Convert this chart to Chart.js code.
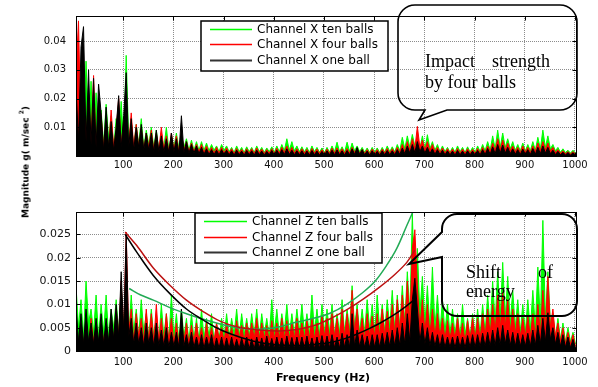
<!DOCTYPE html>
<html>
<head>
<meta charset="utf-8">
<script src="https://cdn.jsdelivr.net/npm/chart.js@4.4.1/dist/chart.umd.min.js"></script>
<style>
html,body{margin:0;padding:0;background:#fff;width:598px;height:387px;overflow:hidden;position:relative;}
#cTop{position:absolute;left:0;top:0;}
#cBot{position:absolute;left:0;top:190px;}
#ylab{position:absolute;left:24px;top:162px;transform:translate(-50%,-50%) rotate(-90deg);font:bold 9px "DejaVu Sans",sans-serif;white-space:nowrap;color:#000;}
#ylab sup{font-size:6px;vertical-align:5px;}
#xlab{position:absolute;left:323px;top:377px;transform:translate(-50%,-50%);font:bold 11px "DejaVu Sans",sans-serif;white-space:nowrap;color:#000;}
</style>
</head>
<body>
<canvas id="cTop" width="598" height="180"></canvas>
<canvas id="cBot" width="598" height="197"></canvas>
<div id="ylab">Magnitude g( m/sec <sup>2</sup>)</div>
<div id="xlab">Frequency (Hz)</div>
<script>
// ---- spectrum bins (Hz): first bin and bin spacing
const freqStartHz = 6;
const freqStepHz = 5;
// values below are in units of 0.001 m/sec^2
const UNIT = 0.001;

// ---- Channel X (top panel)
const xTenBalls = [
 20,8,27,5,33,6,26,4,22,5,
 16,4,18,6,14,3,13,5,19,4,
 35,5,12,3,11,4,13,3,9,4,
 10,3,9,2,8,3,10,2,7,3,
 8,2.5,7,3,6,2,5.5,2,5,2,
 5,2,4.5,1.8,4,2,3.5,1.5,4,2,
 3.5,1.5,3,1.2,3.5,1.5,3,1.2,3.2,1.5,
 3,1.2,3.5,1.5,3,1.2,2.8,1.5,3.2,1.3,
 3.5,1.5,4,1.8,6,2,5,1.8,3.5,1.5,
 3.2,1.4,3,1.2,3.5,1.5,3,1.3,2.8,1.2,
 3,1.3,3.5,1.5,4.8,1.5,3.2,1.3,4.8,1.5,
 4.5,1.8,3.5,1.5,3,1.3,2.8,1.2,3,1.3,
 2.8,1.2,3,1.3,3.5,1.5,3.2,1.4,4,1.8,
 6.5,2.5,7,3,7.5,3.5,6,2.5,7,2.5,
 7.4,2.5,5,2,4,1.5,3.5,1.5,3,1.3,
 3,1.3,3.5,1.5,3,1.2,3.2,1.4,3,1.3,
 3.5,1.5,4,1.8,5,2,7,2.5,9,3,
 8,3,6,2.5,5,2,4,1.8,4.5,1.8,
 4,1.8,5,2,6.5,2.5,9,3,7,2.5,
 4,1.8,3,1.3,2.5,1.2,2,1,2,1
];
const xFourBalls = [
 29,47,6,30,4,22,5,28,3,18,
 14,3,12,2,16,3,9,20,4,12,
 12,4,15,3,11,3,10,2,8,3,
 9,2,8,2,10,2,7,1.5,8,2,
 7,1.5,8,2,5,1.5,4.5,1.5,4,1.5,
 4,1.2,3.5,1,3,1,3,1,3,1,
 2.8,1,2.5,0.8,2.6,1,2.3,0.8,2.5,1,
 2.5,0.8,2.8,1,2.4,0.8,2.2,1,2.5,0.8,
 2.7,1,3,1.2,3.5,1.2,3,1,2.5,1,
 2.5,1,2.3,0.8,2.6,1,2.4,0.9,2.2,0.8,
 2.4,0.9,2.7,1,2.8,1,2.5,0.9,2.6,1,
 3,1.2,2.6,1,2.3,0.9,2.2,0.8,2.4,0.9,
 2.2,0.8,2.4,1,2.6,1,2.5,1,3,1.2,
 4,1.5,5,2,6,2.5,10.3,3,5.5,2,
 5,1.8,4,1.5,3,1.2,2.8,1,2.5,1,
 2.4,0.9,2.6,1,2.4,0.9,2.5,1,2.3,0.9,
 2.6,1,3,1.2,3.5,1.5,4.5,1.8,6,2.2,
 5.5,2,4.5,1.8,3.5,1.5,3,1.2,3.5,1.3,
 3,1.2,3.5,1.5,4.5,1.8,5,2,4.5,1.8,
 3,1.2,2.2,1,1.8,0.8,1.5,0.7,1.5,0.7
];
const xOneBall = [
 24,5,38,45,5,30,4,27,3,25,
 15,2,17,3,12,2,10,21,3,14,
 29,3,13,2,10,3,11,2,8,2,
 8,1.5,9,1.5,7,1.5,6,1.2,8,1.5,
 6,1,14,1.2,5,1,4,1,3.5,0.8,
 3,0.6,2.5,0.5,2.2,0.5,2,0.4,2.2,0.5,
 2,0.4,1.8,0.3,2,0.4,1.7,0.3,1.9,0.4,
 1.8,0.3,2,0.4,1.7,0.3,1.6,0.4,1.9,0.3,
 2,0.4,2.2,0.5,2.5,0.5,2,0.4,1.8,0.4,
 1.8,0.3,1.7,0.3,1.9,0.4,1.7,0.3,1.6,0.3,
 1.8,0.4,2,0.4,2.1,0.4,1.8,0.3,1.9,0.4,
 2.5,0.5,3,0.5,2.2,0.4,1.7,0.3,1.8,0.3,
 1.6,0.3,1.8,0.4,1.9,0.4,1.8,0.4,2.2,0.5,
 2.8,0.8,3.5,1,4,1.2,5,1.5,3.5,1,
 3,0.8,2.5,0.6,2.2,0.5,2,0.4,1.8,0.4,
 1.7,0.3,1.9,0.4,1.7,0.3,1.8,0.4,1.7,0.3,
 1.9,0.4,2.2,0.5,2.6,0.6,3.2,0.8,4,1,
 3.8,1,3,0.8,2.5,0.6,2.2,0.5,2.4,0.5,
 2.2,0.5,2.6,0.6,3,0.8,3.5,1,3,0.8,
 2,0.5,1.6,0.4,1.3,0.3,1.2,0.3,1.1,0.3
];

// ---- Channel Z (bottom panel)
const zTenBalls = [
 14,5,11,3,15,6,9,4,12,3,
 10,4,12,3,9,5,11,4,13,5,
 10,3,12,4,9,3,11,4,8,3,
 9,3,7,2,10,3,8,2,12,3,
 8,2,9,3,7,2,8,2.5,7,2,
 9,2.5,7,3,8,2,6,2.5,7,3,
 8,3,7,3.5,9,3,8,3.5,7,3,
 8,3.5,9,3,8,3.5,7,3,11,4,
 9,3.5,8,4,10,3.5,8,3.5,9,4,
 10,4,8,3.5,12,4,9,3.5,10,4,
 9,4,10,3.5,8,4,11,4,9,4.5,
 14,5,10,4,9,4,11,4.5,10,4,
 12,4.5,10,4,11,5,13,4.5,12,5,
 14,6,17,8,29.5,10,22,8,16,6,
 14,5,18,5,12,4,11,4,10,3.5,
 9,3.5,8,3,10,3.5,7,3,8,3,
 9,3.5,10,4,12,5,15,6,17,7,
 19,7,16,6,13,5,11,4,10,4,
 11,4.5,13,5,18,6,28,7,17,6,
 8,3,7,2.5,6,2,5,2,4,1.5
];
const zFourBalls = [
 4,1,6,1.5,5,1,7,2,5,1.5,
 6,2,5,1.5,7,2,9,3,15,4,
 25.5,4,9,2,8,3,7,2,9,2,
 8,2,10,2,7,1.5,8,2,7,1.5,
 6,1.5,7,2,6,1.5,5.5,2,6,2,
 5,1.5,6,2,5,2,6,2.5,5,2,
 6,2.5,5,2,6.5,2.5,5.5,2,6,2.5,
 6,2.5,7,2.5,6,2.5,5.5,2,6.5,2.5,
 6,2.5,7,2.5,6.5,2.5,6,2.5,7,2.5,
 6,2.5,6.5,2.5,7,2.5,6,2.5,7.5,3,
 7,2.5,8,3,7,2.5,9,3,8,3,
 13,4,9,3,7,2.5,8,3,7.5,3,
 8,3,9,3,8.5,3,10,3.5,11,4,
 12,5,15,6,22,26,14,5,11,4,
 10,3.5,9,3,8,3,7,2.5,6.5,2.5,
 6,2.5,7,2.5,6,2,6.5,2.5,7,2.5,
 7,2.5,8,3,9,3.5,10,4,12,4.5,
 12.5,5,11,4,9,3.5,8,3,7,3,
 7.5,3,8,3,10,3.5,13,4.5,16,5,
 9,3,6,2,5,1.5,4,1.5,3.5,1
];
const zOneBall = [
 10,2,8,1.5,9,2,6,1.5,7,2,
 8,1.5,7,2,9,2.5,10,3,17,4,
 25,3,7,1.5,6,1.5,5,1,6,1.5,
 5,1,6,1.2,4.5,1,5,0.8,4,1,
 4,0.8,9,1,3.5,0.8,4,0.8,3,0.6,
 3.5,0.6,3,0.8,3.5,0.5,2.8,0.6,3,0.5,
 2.8,0.5,3,0.6,2.5,0.5,2.8,0.6,3,0.5,
 2.6,0.5,3,0.6,2.8,0.5,3.2,0.6,2.7,0.5,
 3,0.6,2.8,0.5,3.2,0.6,2.9,0.5,3,0.6,
 3,0.6,3.2,0.6,2.8,0.5,3,0.6,3.3,0.7,
 3.2,0.7,3.5,0.7,3,0.6,3.8,0.8,3.5,0.8,
 8,1,4.5,0.9,3.5,0.8,3.2,0.7,3.5,0.8,
 3.5,0.8,3.8,0.9,4,1,4.5,1,5,1.2,
 6,1.5,8,2,11,15.6,9,2,6,1.5,
 5,1.2,4,1,3.5,0.8,3.5,0.8,3,0.8,
 3,0.7,3.2,0.8,3,0.7,3.3,0.8,3.5,0.8,
 3.5,0.9,3.8,1,4,1,4.5,1.2,5,1.3,
 5.5,1.5,4.5,1.2,4,1,3.8,1,3.5,1,
 3.8,1,4.5,1.2,5.5,1.5,7,2,8.2,2.5,
 5,1.5,4,1,3.5,0.8,3,0.7,2.5,0.6
];

// ---- hand-drawn trend curves in the bottom panel (Hz, value)
const trendTenFreq = [112,135,160,193,226,260,293,326,352,379,412,446,479,512,545,578,602,625,645,665,677];
const trendTenVal  = [13.4,12.0,10.9,9.3,8.0,6.8,5.8,5.0,4.7,4.7,5.2,6.2,7.0,8.1,10.0,12.6,15.0,18.4,22.0,26.9,29.8];
const trendFourFreq = [104,127,160,193,226,260,293,326,370,412,445,479,512,545,578,612,640,665,681];
const trendFourVal  = [25.5,22.6,17.8,14.1,10.9,8.4,6.4,5.2,4.5,4.3,4.6,5.4,6.9,8.8,11.1,13.8,16.3,19.0,21.6];
const trendOneFreq = [104,127,160,193,226,260,293,326,360,400,446,480,512,540,565,590,612,640,660,681];
const trendOneVal  = [25,21.2,16.2,12.3,9.0,6.6,4.6,3.2,2.1,1.4,1.2,1.4,1.8,2.6,3.6,4.8,6.0,7.8,9.3,11.1];

// ---- axes and labels
const xTicks = [100,200,300,400,500,600,700,800,900,1000];
const yTicksTop = [0.01,0.02,0.03,0.04];
const yTicksBottom = [0,0.005,0.01,0.015,0.02,0.025];
const legendTop = ['Channel X ten balls','Channel X four balls','Channel X one ball'];
const legendBottom = ['Channel Z ten balls','Channel Z four balls','Channel Z one ball'];
const calloutTop = ['Impact', 'strength', 'by four balls'];
const calloutBottom = ['Shift', 'of', 'energy'];

// ---- styles
const GREEN = '#00ff00', RED = '#ff0000', BLACK = '#000000';
const TREND_GREEN = '#22aa55', TREND_RED = '#bb1111', TREND_BLACK = '#000000';

function spectrum(values) {
  return values.map((v, i) => ({ x: freqStartHz + i * freqStepHz, y: v * UNIT }));
}
function trend(freqs, vals) {
  return freqs.map((f, i) => ({ x: f, y: vals[i] * UNIT }));
}
function spectrumSet(values, color, order) {
  return { data: spectrum(values), borderColor: color, backgroundColor: color, fill: 'origin', order };
}
function trendSet(freqs, vals, color, order) {
  return { data: trend(freqs, vals), borderColor: color, borderWidth: 1.5, tension: 0.35, fill: false, order };
}

function roundedCallout(ctx, c) {
  const { x0, y0, x1, y1, r } = c;
  ctx.beginPath();
  ctx.moveTo(x0 + r, y0);
  ctx.lineTo(x1 - r, y0);
  ctx.arcTo(x1, y0, x1, y0 + r, r);
  ctx.lineTo(x1, y1 - r);
  ctx.arcTo(x1, y1, x1 - r, y1, r);
  if (c.tailBottom) {
    const t = c.tailBottom;
    ctx.lineTo(t[0][0], t[0][1]);
    ctx.lineTo(t[1][0], t[1][1]);
    ctx.lineTo(t[2][0], t[2][1]);
  }
  ctx.lineTo(x0 + r, y1);
  ctx.arcTo(x0, y1, x0, y1 - r, r);
  if (c.tailLeft) {
    const t = c.tailLeft;
    ctx.lineTo(t[0][0], t[0][1]);
    ctx.lineTo(t[1][0], t[1][1]);
    ctx.lineTo(t[2][0], t[2][1]);
  }
  ctx.lineTo(x0, y0 + r);
  ctx.arcTo(x0, y0, x0 + r, y0, r);
  ctx.closePath();
  ctx.stroke();
}

function decor(cfg) {
  return {
    id: 'decor',
    afterDatasetsDraw(chart) {
      const ctx = chart.ctx, a = chart.chartArea, xs = chart.scales.x, ys = chart.scales.y;
      ctx.save();
      ctx.strokeStyle = '#000';
      ctx.lineWidth = 1;
      const L = Math.round(a.left) + 0.5, T = Math.round(a.top) + 0.5;
      const R = Math.round(a.right) + 0.5, B = Math.round(a.bottom) + 0.5;
      ctx.strokeRect(L, T, R - L, B - T);
      ctx.beginPath();
      xTicks.forEach(v => {
        const p = Math.round(xs.getPixelForValue(v)) + 0.5;
        ctx.moveTo(p, T); ctx.lineTo(p, T + 4);
        ctx.moveTo(p, B); ctx.lineTo(p, B - 4);
      });
      cfg.yTicks.forEach(v => {
        const p = Math.round(ys.getPixelForValue(v)) + 0.5;
        ctx.moveTo(L, p); ctx.lineTo(L + 4, p);
        ctx.moveTo(R, p); ctx.lineTo(R - 4, p);
      });
      ctx.stroke();
      const lg = cfg.legend;
      ctx.fillStyle = '#fff';
      ctx.fillRect(lg.x0, lg.y0, lg.x1 - lg.x0, lg.y1 - lg.y0);
      ctx.strokeStyle = '#000';
      ctx.lineWidth = 1.5;
      ctx.strokeRect(lg.x0, lg.y0, lg.x1 - lg.x0, lg.y1 - lg.y0);
      ctx.font = '12px "DejaVu Sans", sans-serif';
      ctx.textBaseline = 'middle';
      ctx.textAlign = 'left';
      cfg.legendLabels.forEach((lab, i) => {
        const yy = lg.rows[i];
        ctx.strokeStyle = cfg.legendColors[i];
        ctx.lineWidth = cfg.legendWidths[i];
        ctx.beginPath(); ctx.moveTo(lg.lx0, yy); ctx.lineTo(lg.lx1, yy); ctx.stroke();
        ctx.fillStyle = '#000';
        ctx.fillText(lab, lg.tx, yy + 0.5);
      });
      ctx.strokeStyle = '#000';
      ctx.lineWidth = cfg.callout.lw;
      ctx.lineJoin = 'miter';
      roundedCallout(ctx, cfg.callout);
      ctx.fillStyle = '#000';
      ctx.font = '18px "Liberation Serif", "Times New Roman", serif';
      ctx.textBaseline = 'alphabetic';
      cfg.callout.texts.forEach(t => {
        ctx.textAlign = t.align || 'left';
        ctx.fillText(t.s, t.x, t.y);
      });
      ctx.restore();
    }
  };
}

function makeChart(id, cfg) {
  return new Chart(document.getElementById(id), {
    type: 'line',
    data: { datasets: cfg.datasets },
    options: {
      responsive: false,
      animation: false,
      devicePixelRatio: 1,
      layout: { padding: { top: cfg.padTop, right: 22, left: 0, bottom: 0 } },
      elements: { point: { radius: 0 }, line: { borderWidth: 1, tension: 0 } },
      plugins: { legend: { display: false }, tooltip: { enabled: false } },
      scales: {
        x: {
          type: 'linear', min: 6, max: 1002,
          afterBuildTicks: s => { s.ticks = xTicks.map(v => ({ value: v })); },
          afterFit: s => { s.height = cfg.xAxisH; },
          ticks: { autoSkip: false, maxRotation: 0, padding: cfg.xPad, color: '#111', callback: v => String(v),
                   font: { family: '"DejaVu Sans", sans-serif', size: 10 } },
          grid: { color: 'rgba(0,0,0,0.45)', drawTicks: false, lineWidth: 1 },
          border: { display: false, dash: [1, 1] }
        },
        y: {
          type: 'linear', min: 0, max: cfg.ymax,
          afterBuildTicks: s => { s.ticks = cfg.yTicks.map(v => ({ value: v })); },
          afterFit: s => { s.width = 76; },
          ticks: { padding: cfg.yPad, color: '#111', callback: v => String(v),
                   font: { family: '"DejaVu Sans", sans-serif', size: cfg.yFont } },
          grid: { color: 'rgba(0,0,0,0.45)', drawTicks: false, lineWidth: 1 },
          border: { display: false, dash: [1, 1] }
        }
      }
    },
    plugins: [decor(cfg)]
  });
}

makeChart('cTop', {
  padTop: 16, xAxisH: 24, xPad: 3, yPad: 10, yFont: 10, ymax: 0.0487,
  yTicks: yTicksTop,
  datasets: [
    spectrumSet(xTenBalls, GREEN, 3),
    spectrumSet(xFourBalls, RED, 2),
    spectrumSet(xOneBall, BLACK, 1)
  ],
  legend: { x0: 201, y0: 21, x1: 388, y1: 71, lx0: 210, lx1: 252, tx: 257, rows: [29.5, 44.5, 60.5] },
  legendLabels: legendTop,
  legendColors: [GREEN, RED, '#333'],
  legendWidths: [1.5, 1.5, 2],
  callout: {
    x0: 398, y0: 5, x1: 577, y1: 110, r: 17, lw: 1.6,
    tailBottom: [[447, 110], [419, 120], [425, 110]],
    texts: [
      { s: calloutTop[0], x: 425, y: 67 },
      { s: calloutTop[1], x: 550, y: 67, align: 'right' },
      { s: calloutTop[2], x: 425, y: 88 }
    ]
  }
});

makeChart('cBot', {
  padTop: 22, xAxisH: 36, xPad: 5, yPad: 5, yFont: 11, ymax: 0.0298,
  yTicks: yTicksBottom,
  datasets: [
    spectrumSet(zTenBalls, GREEN, 6),
    spectrumSet(zFourBalls, RED, 5),
    spectrumSet(zOneBall, BLACK, 4),
    trendSet(trendTenFreq, trendTenVal, TREND_GREEN, 3),
    trendSet(trendFourFreq, trendFourVal, TREND_RED, 2),
    trendSet(trendOneFreq, trendOneVal, TREND_BLACK, 1)
  ],
  legend: { x0: 195, y0: 23, x1: 382, y1: 73, lx0: 204, lx1: 247, tx: 252, rows: [31.5, 47.5, 62.5] },
  legendLabels: legendBottom,
  legendColors: [GREEN, RED, '#333'],
  legendWidths: [1.5, 1.5, 2],
  callout: {
    x0: 442, y0: 24, x1: 577, y1: 126, r: 15, lw: 2,
    tailLeft: [[442, 67], [409, 74], [442, 42]],
    texts: [
      { s: calloutBottom[0], x: 466, y: 88 },
      { s: calloutBottom[1], x: 538, y: 88 },
      { s: calloutBottom[2], x: 466, y: 107 }
    ]
  }
});
</script>
</body>
</html>
